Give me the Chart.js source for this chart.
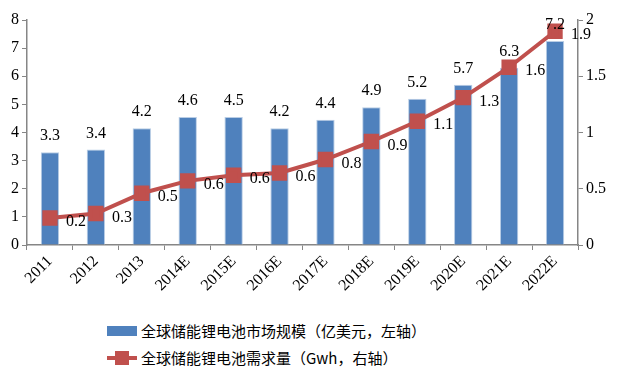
<!DOCTYPE html>
<html>
<head>
<meta charset="utf-8">
<script src="https://cdn.jsdelivr.net/npm/chart.js@4"></script>
<style>
  body { margin: 0; background: #fff; }
  #wrap { position: relative; width: 618px; height: 370px; }
  #legend { position: absolute; left: 107px; top: 317px; font-family: "Noto Sans CJK SC", sans-serif; font-size: 15px; color: #000; }
  .item { display: flex; align-items: center; height: 27px; }
  .sw { width: 30px; height: 14px; margin-right: 4px; position: relative; }
</style>
</head>
<body>
<div id="wrap">
  <canvas id="chart" width="618" height="305"></canvas>
  <div id="legend"></div>
</div>
<script>
const years = ['2011', '2012', '2013', '2014E', '2015E', '2016E', '2017E', '2018E', '2019E', '2020E', '2021E', '2022E'];
const marketSize = [3.3, 3.4, 4.15, 4.55, 4.55, 4.15, 4.45, 4.9, 5.2, 5.7, 6.3, 7.25];
const marketLabels = ['3.3', '3.4', '4.2', '4.6', '4.5', '4.2', '4.4', '4.9', '5.2', '5.7', '6.3', '7.2'];
const demand = [0.24, 0.28, 0.46, 0.57, 0.62, 0.64, 0.76, 0.92, 1.1, 1.31, 1.58, 1.9];
const demandLabels = ['0.2', '0.3', '0.5', '0.6', '0.6', '0.6', '0.8', '0.9', '1.1', '1.3', '1.6', '1.9'];

const BLUE = '#4F81BD';
const RED = '#C0504D';
const AXIS = '#868686';
const SERIF = "'Liberation Serif', 'Times New Roman', serif";

// value labels drawn on top of the bars and next to the line points
const valueLabels = {
  id: 'valueLabels',
  afterDatasetsDraw(chart) {
    const ctx = chart.ctx;
    ctx.save();
    ctx.font = '16px ' + SERIF;
    ctx.fillStyle = '#000';
    ctx.textBaseline = 'middle';
    chart.getDatasetMeta(1).data.forEach((bar, i) => {
      ctx.textAlign = 'center';
      ctx.fillText(marketLabels[i], bar.x, bar.y - 16);
    });
    chart.getDatasetMeta(0).data.forEach((pt, i) => {
      ctx.textAlign = 'left';
      ctx.fillText(demandLabels[i], pt.x + 16, pt.y + 4);
    });
    ctx.restore();
  }
};

const chart = new Chart(document.getElementById('chart'), {
  data: {
    labels: years,
    datasets: [
      {
        type: 'line',
        label: '全球储能锂电池需求量（Gwh，右轴）',
        data: demand,
        yAxisID: 'y1',
        borderColor: RED,
        backgroundColor: RED,
        borderWidth: 4,
        pointStyle: 'rect',
        pointRadius: 8,
        pointBackgroundColor: RED,
        pointBorderColor: RED,
        tension: 0,
        order: 0,
      },
      {
        type: 'bar',
        label: '全球储能锂电池市场规模（亿美元，左轴）',
        data: marketSize,
        yAxisID: 'y',
        backgroundColor: BLUE,
        borderColor: '#B9CDE5',
        borderWidth: { top: 1, left: 1, right: 1, bottom: 0 },
        barPercentage: 0.4,
        categoryPercentage: 1,
        order: 1,
      },
    ],
  },
  options: {
    responsive: false,
    animation: false,
    layout: { padding: { top: 20, left: 0, right: 0, bottom: 0 } },
    plugins: { legend: { display: false }, tooltip: { enabled: false } },
    scales: {
      x: {
        offset: true,
        grid: { display: true, drawOnChartArea: false, offset: true, color: AXIS, tickLength: 5 },
        border: { color: AXIS, width: 1.5 },
        ticks: { color: '#000', font: { family: SERIF, size: 16 }, minRotation: 45, maxRotation: 45, padding: 2 },
        afterFit(scale) { scale.height = 60; },
      },
      y: {
        position: 'left',
        min: 0,
        max: 8,
        ticks: { stepSize: 1, color: '#000', font: { family: SERIF, size: 16 }, padding: 3 },
        grid: { display: true, drawOnChartArea: false, color: AXIS, tickLength: 5 },
        border: { color: AXIS, width: 1.5 },
        afterFit(scale) { scale.width = 27; },
      },
      y1: {
        position: 'right',
        min: 0,
        max: 2,
        ticks: {
          stepSize: 0.5, color: '#000', font: { family: SERIF, size: 16 }, padding: 3,
          callback: (v) => String(v),
        },
        grid: { display: true, drawOnChartArea: false, color: AXIS, tickLength: 5 },
        border: { color: AXIS, width: 1.5 },
        afterFit(scale) { scale.width = 40; },
      },
    },
  },
  plugins: [valueLabels],
});

// html legend, stacked like the original
const legend = document.getElementById('legend');
[1, 0].forEach((idx) => {
  const ds = chart.data.datasets[idx];
  const item = document.createElement('div');
  item.className = 'item';
  const sw = document.createElement('div');
  sw.className = 'sw';
  if (ds.type === 'bar') {
    sw.innerHTML = '<div style="position:absolute;left:0;top:2px;width:30px;height:10px;background:' + BLUE + '"></div>';
  } else {
    sw.innerHTML = '<div style="position:absolute;left:0;top:5px;width:30px;height:4px;background:' + RED + '"></div>' +
      '<div style="position:absolute;left:8px;top:0;width:14px;height:14px;background:' + RED + '"></div>';
  }
  const txt = document.createElement('span');
  txt.textContent = ds.label;
  item.appendChild(sw);
  item.appendChild(txt);
  legend.appendChild(item);
});
</script>
</body>
</html>
